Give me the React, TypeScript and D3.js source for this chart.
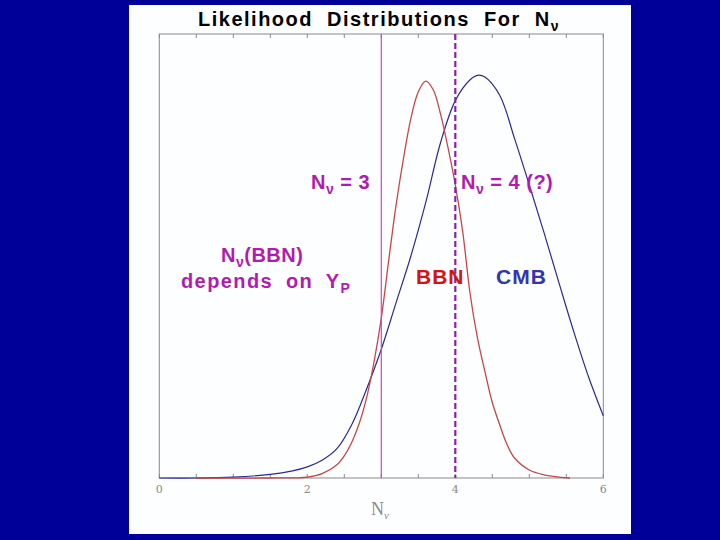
import * as d3 from 'd3';
import React, { useEffect, useRef } from 'react';

// Likelihood distributions for N_nu (BBN vs CMB)

const cmbN = [0, 0.5, 1.0, 1.5, 1.8, 2.0, 2.2, 2.4, 2.6, 2.8, 3.0, 3.2, 3.4, 3.6, 3.8, 4.0, 4.2, 4.3, 4.4, 4.6, 4.8, 5.0, 5.2, 5.4, 5.6, 5.8, 6.0];
const cmbL = [0, 0, 0.002, 0.008, 0.016, 0.025, 0.04, 0.066, 0.12, 0.2, 0.29, 0.395, 0.5, 0.62, 0.755, 0.85, 0.897, 0.907, 0.903, 0.862, 0.765, 0.66, 0.552, 0.44, 0.33, 0.228, 0.14];

const bbnN = [0.5, 1.5, 2.0, 2.2, 2.4, 2.5, 2.6, 2.7, 2.8, 2.9, 3.0, 3.1, 3.2, 3.3, 3.4, 3.5, 3.6, 3.7, 3.8, 3.9, 4.0, 4.1, 4.2, 4.3, 4.4, 4.5, 4.6, 4.7, 4.8, 5.0, 5.2, 5.4, 5.55];
const bbnL = [0, 0, 0.002, 0.01, 0.03, 0.05, 0.08, 0.122, 0.18, 0.26, 0.36, 0.49, 0.615, 0.72, 0.81, 0.87, 0.894, 0.875, 0.82, 0.745, 0.66, 0.555, 0.415, 0.315, 0.24, 0.17, 0.12, 0.075, 0.045, 0.018, 0.007, 0.002, 0];

const xTicks = [0, 0.5, 1, 1.5, 2, 2.5, 3, 3.5, 4, 4.5, 5, 5.5, 6];
const xLabels = [0, 2, 4, 6];
const refLines = [3, 4];

export default () => {
    const ref = useRef<any>();

    useEffect(() => {
        const svg = d3.select<any, any>(ref.current);
        svg.selectAll('*').remove();

        const dims = { left: 159.3, right: 603.3, top: 34, bottom: 478 };
        const xScale = d3.scaleLinear().domain([0, 6]).range([dims.left, dims.right]);
        const yScale = d3.scaleLinear().domain([0, 1]).range([dims.bottom, dims.top]);

        // blue slide background + white panel
        svg.append('rect').attr('width', 720).attr('height', 540).attr('fill', '#000099');
        svg.append('rect').attr('x', 129).attr('y', 5).attr('width', 502).attr('height', 529).attr('fill', '#fdfeff');

        const font = 'Liberation Sans, Arial, sans-serif';

        // title
        const title = svg.append('text')
            .attr('x', 379).attr('y', 26)
            .attr('text-anchor', 'middle')
            .style('font-family', font)
            .style('font-size', '20px')
            .style('font-weight', 'bold')
            .style('letter-spacing', '1.5px')
            .style('word-spacing', '7px')
            .attr('fill', '#000');
        title.append('tspan').text('Likelihood Distributions For N');
        title.append('tspan').attr('dy', 5).style('font-size', '14px').text('ν');

        // plot box
        const box = svg.append('g');
        box.append('rect')
            .attr('x', dims.left).attr('y', dims.top)
            .attr('width', dims.right - dims.left).attr('height', dims.bottom - dims.top)
            .attr('fill', 'none').attr('stroke', '#8a8a8a').attr('stroke-width', 1);

        box.selectAll('.tb').data(xTicks).enter().append('line')
            .attr('x1', (d) => xScale(d)).attr('x2', (d) => xScale(d))
            .attr('y1', dims.bottom).attr('y2', dims.bottom - 4)
            .attr('stroke', '#8a8a8a');
        box.selectAll('.tt').data(xTicks).enter().append('line')
            .attr('x1', (d) => xScale(d)).attr('x2', (d) => xScale(d))
            .attr('y1', dims.top).attr('y2', dims.top + 4)
            .attr('stroke', '#8a8a8a');

        box.selectAll('.lbl').data(xLabels).enter().append('text')
            .attr('x', (d) => xScale(d)).attr('y', 493)
            .attr('text-anchor', 'middle')
            .style('font-family', 'DejaVu Serif, serif')
            .style('font-size', '11px')
            .attr('fill', '#8a8a8a')
            .text((d) => d);

        const xl = svg.append('text')
            .attr('x', 380).attr('y', 515)
            .attr('text-anchor', 'middle')
            .style('font-family', 'Liberation Serif, serif')
            .style('font-size', '18px')
            .attr('fill', '#8a8a8a');
        xl.append('tspan').text('N');
        xl.append('tspan').attr('dy', 4).style('font-size', '11px').style('font-style', 'italic').text('ν');

        // curves
        const line = d3.line<number>()
            .x((d) => xScale(d))
            .curve(d3.curveCatmullRom.alpha(0.5));

        svg.append('path')
            .attr('d', line.y((d, i) => yScale(cmbL[i]))(cmbN) as string)
            .attr('fill', 'none').attr('stroke', '#2a2a95').attr('stroke-width', 1.2);
        svg.append('path')
            .attr('d', line.y((d, i) => yScale(bbnL[i]))(bbnN) as string)
            .attr('fill', 'none').attr('stroke', '#c44848').attr('stroke-width', 1.3);

        // reference lines
        svg.append('line')
            .attr('x1', xScale(refLines[0])).attr('x2', xScale(refLines[0]))
            .attr('y1', dims.top).attr('y2', dims.bottom)
            .attr('stroke', '#cc44cc').attr('stroke-width', 1.2);
        svg.append('line')
            .attr('x1', xScale(refLines[1])).attr('x2', xScale(refLines[1]))
            .attr('y1', dims.top).attr('y2', dims.bottom)
            .attr('stroke', '#8a22aa').attr('stroke-width', 2.2)
            .attr('stroke-dasharray', '6,3');

        // annotations
        const magenta = '#b01cb0';
        const nuText = (x: number, y: number, after: string) => {
            const t = svg.append('text')
                .attr('x', x).attr('y', y)
                .style('font-family', font)
                .style('font-size', '20px')
                .style('font-weight', 'bold')
                .style('letter-spacing', '0.5px')
                .attr('fill', magenta);
            t.append('tspan').text('N');
            t.append('tspan').attr('dy', 5).style('font-size', '14px').text('ν');
            t.append('tspan').attr('dy', -5).text(after);
            return t;
        };
        nuText(311, 189, ' = 3');
        nuText(461, 189, ' = 4 (?)');
        nuText(221, 262, '(BBN)');

        const dep = svg.append('text')
            .attr('x', 181).attr('y', 288)
            .style('font-family', font)
            .style('font-size', '20px')
            .style('font-weight', 'bold')
            .style('letter-spacing', '1.4px')
            .style('word-spacing', '6px')
            .attr('fill', magenta);
        dep.append('tspan').text('depends on Y');
        dep.append('tspan').attr('dy', 5).style('font-size', '14px').text('P');

        svg.append('text')
            .attr('x', 416).attr('y', 284)
            .style('font-family', font).style('font-size', '21px')
            .style('font-weight', 'bold')
            .style('letter-spacing', '1px')
            .attr('fill', '#d41414').text('BBN');
        svg.append('text')
            .attr('x', 496).attr('y', 284)
            .style('font-family', font).style('font-size', '21px')
            .style('font-weight', 'bold')
            .style('letter-spacing', '1px')
            .attr('fill', '#3434b0').text('CMB');
    });

    return (
        <svg ref={ref} width={720} height={540} style={{ position: 'fixed', left: 0, top: 0 }} />
    );
};
